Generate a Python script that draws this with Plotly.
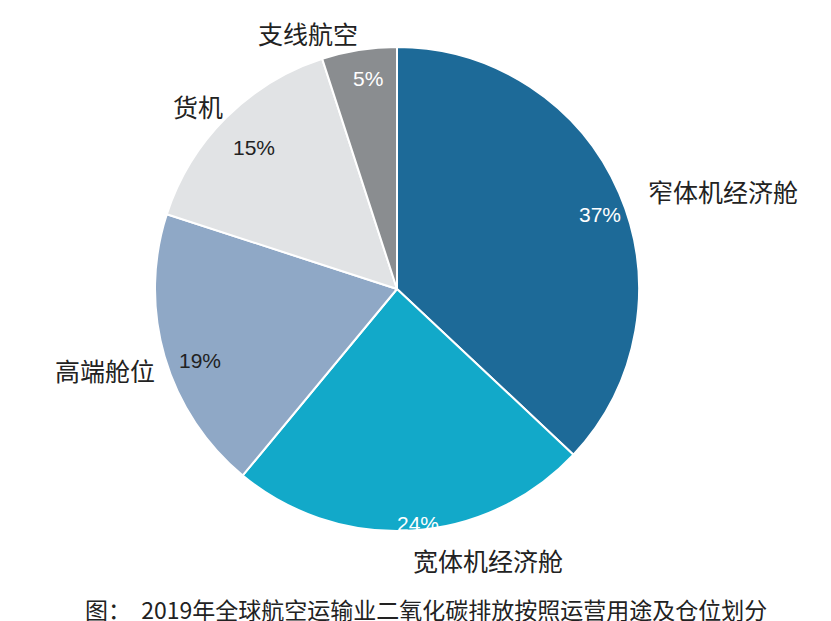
import plotly.graph_objects as go

labels = ["窄体机经济舱", "宽体机经济舱", "高端舱位", "货机", "支线航空"]
values = [37, 24, 19, 15, 5]
pct_text = ["37%", "24%", "19%", "15%", "5%"]
colors = ["#1d6a98", "#12a9c9", "#8fa8c6", "#e1e3e5", "#8a8d90"]
text_colors = ["white", "white", "#222222", "#222222", "white"]
caption = "图：  2019年全球航空运输业二氧化碳排放按照运营用途及仓位划分"

W, H = 831, 621
fig = go.Figure(go.Pie(
    labels=labels, values=values, sort=False, direction="clockwise", rotation=0,
    marker=dict(colors=colors, line=dict(color="white", width=2)),
    textinfo="none",
    domain=dict(x=[147/W, 631/W], y=[1-524/H, 1-38/H]),
    showlegend=False, hoverinfo="label+percent",
))

lab_pos = [(715, 183), (480, 552), (97, 362), (190, 98), (300, 25)]
pct_pos = [(592, 207), (410, 515), (192, 352), (246, 139), (360, 70)]
ann = [dict(x=x/W, y=1-y/H, xref="paper", yref="paper", text=t, showarrow=False,
            xanchor="center", yanchor="middle",
            font=dict(size=25, color="#222", family="Noto Sans CJK SC"))
       for t, (x, y) in zip(labels, lab_pos)]
ann += [dict(x=x/W, y=1-y/H, xref="paper", yref="paper", text=t, showarrow=False,
             xanchor="center", yanchor="middle",
             font=dict(size=21, color=c, family="Liberation Sans, Arial"))
        for t, (x, y), c in zip(pct_text, pct_pos, text_colors)]
ann.append(dict(x=418/W, y=1-601/H, xref="paper", yref="paper", text=caption, showarrow=False,
                xanchor="center", yanchor="middle",
                font=dict(size=23, color="#222", family="Noto Sans CJK SC")))
fig.update_layout(width=W, height=H, margin=dict(l=0, r=0, t=0, b=0),
                  paper_bgcolor="white", annotations=ann)
fig.write_html("out.html")
